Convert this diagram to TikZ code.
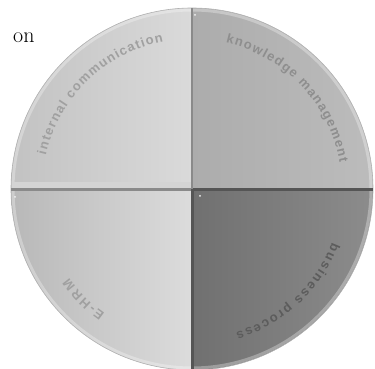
\documentclass[tikz,border=0pt]{standalone}
\usepackage{fontspec}
\newfontfamily\labelfont{Liberation Sans}
\usetikzlibrary{decorations.text,calc}
\definecolor{tlA}{HTML}{C2C2C2}
\definecolor{tlB}{HTML}{DADADA}
\definecolor{trA}{HTML}{ACACAC}
\definecolor{trB}{HTML}{BCBCBC}
\definecolor{blA}{HTML}{B8B8B8}
\definecolor{blB}{HTML}{DCDCDC}
\definecolor{brA}{HTML}{707070}
\definecolor{brB}{HTML}{8C8C8C}
\definecolor{txtLight}{HTML}{A0A0A0}
\definecolor{txtMid}{HTML}{8E8E8E}
\definecolor{txtDark}{HTML}{5C5C5C}
\definecolor{bandLight}{HTML}{D4D4D4}
\definecolor{lineMid}{HTML}{8A8A8A}
\definecolor{lineDark}{HTML}{555555}
\tikzset{
  arclabel/.style n args={2}{decorate,decoration={text along path,
      text={|\labelfont\bfseries\fontsize{13}{13}\selectfont|#1},
      text align=fit to path, text color=#2}},
}
\begin{document}
\begin{tikzpicture}[x=1pt,y=1pt]
\useasboundingbox (0,0) rectangle (375,369);
\coordinate (c) at (192,180);
\def\R{181}
% quadrants
\shade[left color=tlA,right color=tlB] (c) -- ++(180:\R) arc[start angle=180,end angle=90,radius=\R] -- cycle;
\shade[left color=trA,right color=trB] (c) -- ++(90:\R) arc[start angle=90,end angle=0,radius=\R] -- cycle;
\shade[left color=blA,right color=blB] (c) -- ++(180:\R) arc[start angle=180,end angle=270,radius=\R] -- cycle;
\shade[left color=brA,right color=brB] (c) -- ++(270:\R) arc[start angle=270,end angle=360,radius=\R] -- cycle;
% rim
\draw[white,opacity=0.3,line width=3] (c) circle[radius=\R-2];
\draw[gray!60,line width=0.6] (c) circle[radius=\R];
% dividers
\fill[bandLight] (12,181) rectangle (190.5,187);
\fill[lineMid] (11,178) rectangle (192,180.5);
\fill[lineDark] (192,177.5) rectangle (373,180.5);
\fill[lineMid] (190.5,180) rectangle (193,361);
\fill[lineDark] (191,-1) rectangle (193.5,180);
% highlight dots
\fill[white!90!gray] (195,354) circle[radius=1];
\fill[white!90!gray] (15,172) circle[radius=1];
\fill[white!90!gray] (200,173) circle[radius=1];
% labels
\path[arclabel={internal communication}{txtLight}] ($(c)+(167:150)$) arc[start angle=167,end angle=101,radius=150];
\path[arclabel={knowledge management}{txtMid}] ($(c)+(77:150)$) arc[start angle=77,end angle=10,radius=150];
\path[arclabel={business process}{txtDark}] ($(c)+(-21:150)$) arc[start angle=-21,end angle=-73,radius=150];
\path[arclabel={E-HRM}{txtLight}] ($(c)+(-125:152)$) arc[start angle=-125,end angle=-144,radius=152];
% cut-off text
\node[anchor=base west,inner sep=0,font=\fontsize{22}{22}\selectfont] (on) at (13,326) {on};
\end{tikzpicture}
\end{document}
